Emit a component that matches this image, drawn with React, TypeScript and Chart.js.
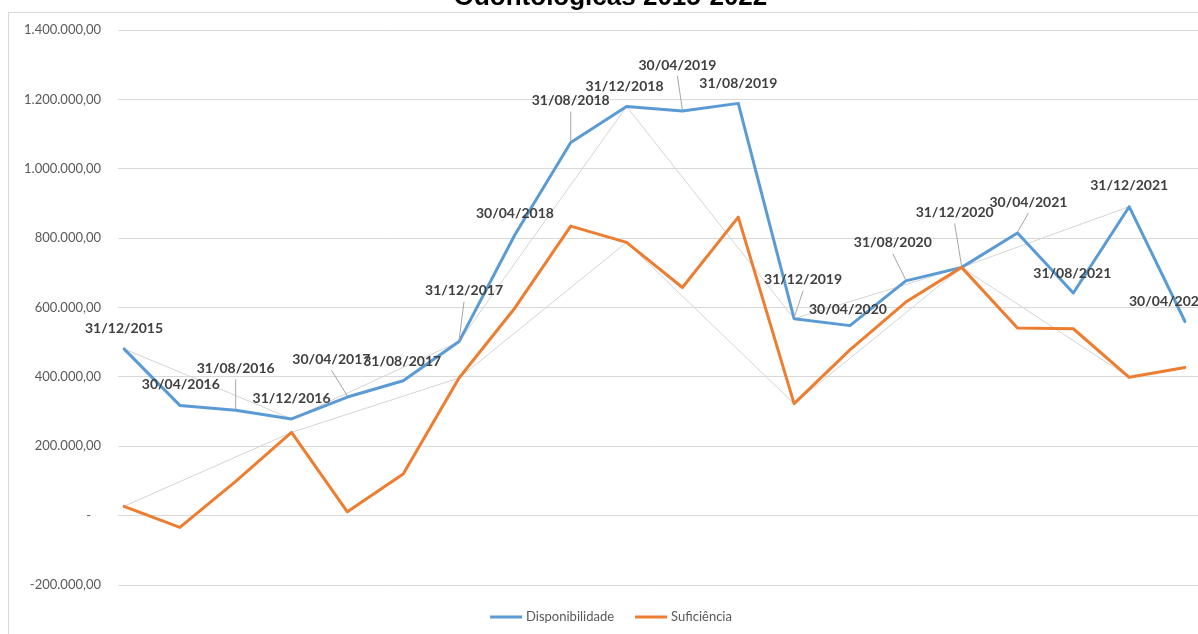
import React, { useEffect, useRef } from 'react';
import { Chart, registerables } from 'chart.js';

Chart.register(...registerables);

const categories = [
  '31/12/2015', '30/04/2016', '31/08/2016', '31/12/2016', '30/04/2017', '31/08/2017',
  '31/12/2017', '30/04/2018', '31/08/2018', '31/12/2018', '30/04/2019', '31/08/2019',
  '31/12/2019', '30/04/2020', '31/08/2020', '31/12/2020', '30/04/2021', '31/08/2021',
  '31/12/2021', '30/04/2022',
];

const disponibilidade = [
  481000, 318000, 304000, 279000, 342000, 389000, 502000, 810000, 1076000, 1180000,
  1167000, 1189000, 568000, 548000, 677000, 716000, 815000, 642000, 891000, 560000,
];

const suficiencia = [
  27000, -34000, 99000, 240000, 11000, 120000, 397000, 599000, 835000, 788000,
  658000, 861000, 323000, 478000, 616000, 716000, 541000, 539000, 399000, 427000,
];

// year-end values (31/12 only)
const disponibilidadeAnual = [
  481000, null, null, 279000, null, null, 502000, null, null, 1180000,
  null, null, 568000, null, null, 716000, null, null, 891000, null,
];

const suficienciaAnual = [
  27000, null, null, 240000, null, null, 397000, null, null, 788000,
  null, null, 323000, null, null, 716000, null, null, 399000, null,
];

const yTickValues = [-200000, 0, 200000, 400000, 600000, 800000, 1000000, 1200000, 1400000];
const yTickLabels = [
  '-200.000,00', '-   ', '200.000,00', '400.000,00', '600.000,00', '800.000,00',
  '1.000.000,00', '1.200.000,00', '1.400.000,00',
];

const titleText = 'Odontológicas 2015-2022';

// label placement (style): offset of label centre from the Disponibilidade point, and leader line flag
const labelOffsets: [number, number][] = [
  [0, -20], [1, -21], [0, -42], [0, -20], [-16, -38], [-1, -19], [5, -51], [0, -21],
  [0, -42], [-2, -20], [-5, -46], [0, -20], [9, -39], [-2, -16], [-13, -38], [-7, -55],
  [11, -31], [-1, -20], [0, -21], [-17, -20],
];
const leaderFlags = [
  false, false, true, false, true, false, true, false, true, false,
  true, false, true, false, true, true, true, false, false, false,
];

const BLUE = '#5b9bd5';
const ORANGE = '#ed7d31';
const GRID = '#d9d9d9';

const decorPlugin = {
  id: 'excelDecor',
  beforeDraw(chart: any) {
    const { ctx, width, height } = chart;
    ctx.save();
    ctx.fillStyle = '#ffffff';
    ctx.fillRect(0, 0, width, height);
    ctx.strokeStyle = GRID;
    ctx.lineWidth = 1;
    ctx.strokeRect(8.5, 42.5, width - 16, height + 20);
    ctx.restore();
  },
  afterDatasetsDraw(chart: any) {
    const { ctx } = chart;
    const meta = chart.getDatasetMeta(0);
    ctx.save();
    ctx.font = 'bold 14px Lato';
    ctx.textAlign = 'center';
    ctx.textBaseline = 'middle';
    meta.data.forEach((pt: any, i: number) => {
      const [dx, dy] = labelOffsets[i];
      const lx = pt.x + dx;
      const ly = pt.y + dy;
      if (leaderFlags[i]) {
        ctx.strokeStyle = '#a6a6a6';
        ctx.lineWidth = 1;
        ctx.beginPath();
        ctx.moveTo(lx, ly + 11);
        ctx.lineTo(pt.x, pt.y - 1);
        ctx.stroke();
      }
      ctx.fillStyle = '#404040';
      ctx.fillText(chart.data.labels[i], lx, ly);
    });
    ctx.restore();
  },
  afterDraw(chart: any) {
    const { ctx } = chart;
    const ds = chart.data.datasets.slice(0, 2);
    ctx.save();
    ctx.font = '13px Lato';
    ctx.textBaseline = 'middle';
    ctx.textAlign = 'left';
    const sample = 32;
    const gapText = 4;
    const gapItem = 21;
    const widths = ds.map((d: any) => ctx.measureText(d.label).width);
    const total = ds.length * (sample + gapText) + widths.reduce((a: number, b: number) => a + b, 0) + gapItem * (ds.length - 1);
    let x = 611 - total / 2;
    const y = 647;
    ds.forEach((d: any, i: number) => {
      ctx.strokeStyle = d.borderColor;
      ctx.lineWidth = 3;
      ctx.lineCap = 'butt';
      ctx.beginPath();
      ctx.moveTo(x, y);
      ctx.lineTo(x + sample, y);
      ctx.stroke();
      x += sample + gapText;
      ctx.fillStyle = '#595959';
      ctx.fillText(d.label, x, y);
      x += widths[i] + gapItem;
    });
    ctx.restore();
  },
};

export default function App() {
  const canvasRef = useRef<HTMLCanvasElement | null>(null);

  useEffect(() => {
    if (!canvasRef.current) return;
    const chart = new Chart(canvasRef.current, {
      type: 'line',
      data: {
        labels: categories,
        datasets: [
          {
            label: 'Disponibilidade',
            data: disponibilidade,
            borderColor: BLUE,
            backgroundColor: BLUE,
            borderWidth: 3,
            pointRadius: 0,
            tension: 0,
            borderJoinStyle: 'round',
            borderCapStyle: 'round',
            order: 1,
          },
          {
            label: 'Suficiência',
            data: suficiencia,
            borderColor: ORANGE,
            backgroundColor: ORANGE,
            borderWidth: 3,
            pointRadius: 0,
            tension: 0,
            borderJoinStyle: 'round',
            borderCapStyle: 'round',
            order: 0,
          },
          {
            label: 'Disponibilidade (31/12)',
            data: disponibilidadeAnual,
            borderColor: '#d4d4d4',
            borderWidth: 1,
            pointRadius: 0,
            spanGaps: true,
            order: 2,
          },
          {
            label: 'Suficiência (31/12)',
            data: suficienciaAnual,
            borderColor: '#d4d4d4',
            borderWidth: 1,
            pointRadius: 0,
            spanGaps: true,
            order: 2,
          },
        ],
      },
      options: {
        animation: false,
        responsive: false,
        devicePixelRatio: 1,
        events: [],
        layout: { padding: { left: 23, right: 28, top: 0, bottom: 49 } },
        plugins: {
          legend: { display: false },
          tooltip: { enabled: false },
          title: {
            display: true,
            text: titleText,
            color: '#000000',
            font: { family: 'Liberation Sans', size: 26, weight: 'bold' },
            padding: { top: 12, bottom: 17 },
          },
        },
        scales: {
          x: {
            type: 'category',
            offset: false,
            display: false,
          },
          y: {
            position: 'left',
            min: -200000,
            max: 1400000,
            ticks: {
              stepSize: 200000,
              color: '#595959',
              font: { family: 'Lato', size: 13 },
              padding: 17,
              callback: (value: any) => {
                const idx = yTickValues.indexOf(Number(value));
                return idx >= 0 ? yTickLabels[idx] : '';
              },
            },
            grid: { color: GRID, lineWidth: 1, drawTicks: true, tickLength: 6 },
            border: { display: false },
            afterFit: (s: any) => {
              s.width = 101;
            },
          },
          y2: {
            position: 'right',
            min: -200000,
            max: 1400000,
            ticks: { display: false, stepSize: 200000 },
            grid: { color: GRID, lineWidth: 1, drawOnChartArea: false, drawTicks: true, tickLength: 13 },
            border: { display: false },
            afterFit: (s: any) => {
              s.width = 13;
            },
          },
        },
      },
      plugins: [decorPlugin],
    } as any);
    return () => chart.destroy();
  }, []);

  return (
    <div style={{ position: 'fixed', left: 0, top: 0, width: 1198, height: 634, overflow: 'hidden', background: '#fff' }}>
      <canvas
        ref={canvasRef}
        width={1226}
        height={664}
        style={{ position: 'absolute', left: 0, top: -30, width: 1226, height: 664 }}
      />
    </div>
  );
}
